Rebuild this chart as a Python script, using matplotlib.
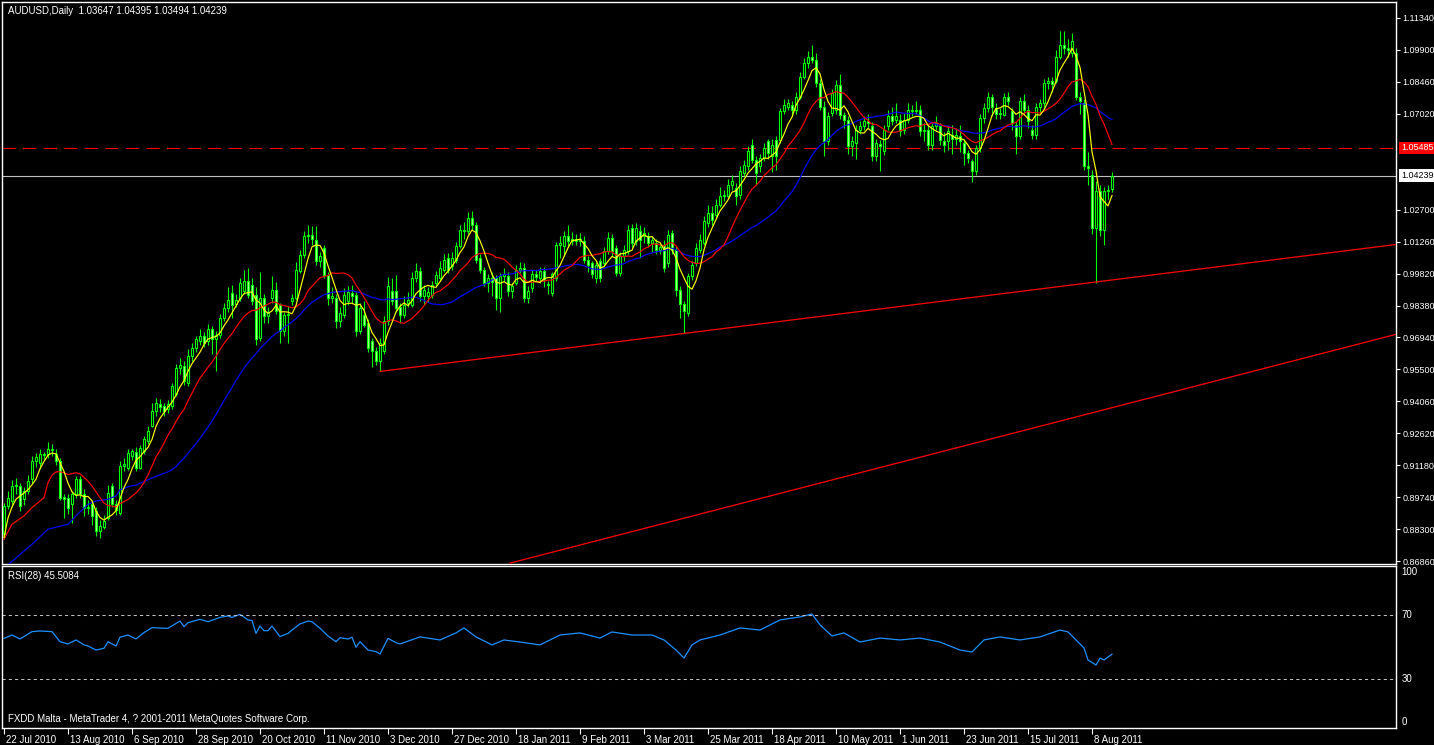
import matplotlib
matplotlib.use("Agg")
import matplotlib.pyplot as plt
import matplotlib.transforms as mtransforms
import numpy as np
import pandas as pd

# ---- daily AUDUSD candles, bar 0 = 22 Jul 2010 ----
opens = [
    0.8807, 0.8935, 0.8957, 0.9025, 0.9025, 0.8965, 0.9002, 0.9055, 0.9137, 0.9130,
    0.9170, 0.9167, 0.9190, 0.9167, 0.9137, 0.8975, 0.8972, 0.8942, 0.8987, 0.9055,
    0.8987, 0.8927, 0.8942, 0.8912, 0.8822, 0.8840, 0.8880, 0.9025, 0.8942, 0.8905,
    0.9115, 0.9107, 0.9160, 0.9180, 0.9107, 0.9182, 0.9227, 0.9295, 0.9362, 0.9392,
    0.9385, 0.9370, 0.9385, 0.9437, 0.9557, 0.9565, 0.9490, 0.9610, 0.9647, 0.9677,
    0.9700, 0.9677, 0.9730, 0.9685, 0.9707, 0.9782, 0.9827, 0.9895, 0.9845, 0.9872,
    0.9902, 0.9947, 0.9932, 0.9887, 0.9690, 0.9872, 0.9790, 0.9872, 0.9910, 0.9842,
    0.9722, 0.9797, 0.9860, 0.9872, 0.9992, 1.0067, 1.0150, 1.0155, 1.0135, 1.0037,
    1.0097, 0.9977, 0.9872, 0.9872, 0.9767, 0.9797, 0.9857, 0.9895, 0.9887, 0.9722,
    0.9797, 0.9760, 0.9677, 0.9632, 0.9587, 0.9632, 0.9767, 0.9902, 0.9902, 0.9830,
    0.9797, 0.9850, 0.9842, 0.9962, 0.9992, 0.9880, 0.9880, 0.9887, 0.9940, 0.9962,
    1.0000, 1.0052, 1.0015, 1.0045, 1.0105, 1.0180, 1.0172, 1.0232, 1.0200, 1.0052,
    1.0000, 0.9940, 0.9962, 0.9962, 0.9873, 0.9970, 0.9970, 0.9903, 0.9940, 1.0000,
    1.0008, 0.9873, 0.9918, 0.9978, 0.9962, 0.9992, 0.9935, 0.9895, 0.9963, 1.0113,
    1.0105, 1.0150, 1.0130, 1.0140, 1.0128, 1.0128, 1.0045, 1.0030, 0.9963, 1.0038,
    1.0030, 1.0083, 1.0143, 1.0098, 0.9985, 1.0060, 1.0083, 1.0188, 1.0128, 1.0173,
    1.0150, 1.0150, 1.0120, 1.0120, 1.0090, 1.0113, 1.0030, 1.0165, 1.0090, 0.9910,
    0.9843, 0.9805, 0.9970, 1.0030, 1.0090, 1.0120, 1.0210, 1.0255, 1.0248, 1.0293,
    1.0330, 1.0330, 1.0383, 1.0368, 1.0338, 1.0435, 1.0465, 1.0563, 1.0495, 1.0465,
    1.0503, 1.0578, 1.0510, 1.0585, 1.0585, 1.0713, 1.0735, 1.0743, 1.0720, 1.0780,
    1.0870, 1.0930, 1.0960, 1.0945, 1.0840, 1.0735, 1.0578, 1.0705, 1.0720, 1.0833,
    1.0698, 1.0675, 1.0555, 1.0570, 1.0630, 1.0645, 1.0668, 1.0645, 1.0510, 1.0565,
    1.0533, 1.0645, 1.0690, 1.0675, 1.0675, 1.0630, 1.0675, 1.0720, 1.0713, 1.0720,
    1.0623, 1.0630, 1.0563, 1.0645, 1.0645, 1.0578, 1.0578, 1.0608, 1.0590, 1.0600,
    1.0570, 1.0525, 1.0488, 1.0443, 1.0548, 1.0683, 1.0728, 1.0780, 1.0728, 1.0705,
    1.0698, 1.0780, 1.0713, 1.0653, 1.0600, 1.0758, 1.0720, 1.0630, 1.0608, 1.0735,
    1.0750, 1.0840, 1.0848, 1.0848, 1.0960, 1.1013, 1.1000, 1.0975, 1.0975, 1.0780,
    1.0750, 1.0465, 1.0428, 1.0188, 1.0353, 1.0180, 1.0353, 1.03647,
]
highs = [
    0.8950, 0.9000, 0.9050, 0.9060, 0.9040, 0.9020, 0.9075, 0.9160, 0.9175, 0.9190,
    0.9180, 0.9225, 0.9215, 0.9190, 0.9150, 0.8990, 0.8990, 0.9000, 0.9070, 0.9070,
    0.9010, 0.8960, 0.8960, 0.8930, 0.8870, 0.8895, 0.9030, 0.9040, 0.8960, 0.9135,
    0.9150, 0.9190, 0.9190, 0.9200, 0.9210, 0.9250, 0.9295, 0.9400, 0.9420, 0.9415,
    0.9400, 0.9410, 0.9490, 0.9575, 0.9600, 0.9590, 0.9640, 0.9670, 0.9700, 0.9730,
    0.9720, 0.9755, 0.9745, 0.9725, 0.9800, 0.9850, 0.9920, 0.9930, 0.9890, 0.9960,
    1.0000, 1.0005, 0.9960, 0.9920, 0.9990, 0.9890, 0.9830, 0.9970, 0.9945, 0.9850,
    0.9810, 0.9835, 0.9890, 1.0035, 1.0090, 1.0175, 1.0200, 1.0195, 1.0195, 1.0080,
    1.0110, 0.9990, 0.9920, 0.9890, 0.9830, 0.9915, 0.9925, 0.9930, 0.9900, 0.9850,
    0.9860, 0.9775, 0.9690, 0.9650, 0.9690, 0.9790, 0.9965, 0.9960, 0.9975, 0.9850,
    0.9880, 0.9900, 0.9990, 1.0030, 1.0010, 0.9930, 0.9920, 0.9950, 0.9995, 1.0040,
    1.0070, 1.0075, 1.0080, 1.0125, 1.0200, 1.0215, 1.0260, 1.0262, 1.0215, 1.0070,
    1.0010, 0.9980, 0.9990, 0.9975, 0.9985, 1.0005, 0.9990, 0.9940, 1.0020, 1.0035,
    1.0030, 0.9925, 1.0000, 1.0000, 1.0010, 1.0010, 0.9950, 0.9990, 1.0125, 1.0150,
    1.0175, 1.0200, 1.0170, 1.0160, 1.0165, 1.0150, 1.0060, 1.0040, 1.0035, 1.0050,
    1.0100, 1.0170, 1.0160, 1.0110, 1.0080, 1.0110, 1.0200, 1.0205, 1.0210, 1.0200,
    1.0190, 1.0170, 1.0150, 1.0140, 1.0120, 1.0135, 1.0180, 1.0180, 1.0105, 0.9925,
    0.9860, 0.9985, 1.0040, 1.0120, 1.0160, 1.0240, 1.0290, 1.0285, 1.0320, 1.0370,
    1.0360, 1.0410, 1.0425, 1.0390, 1.0465, 1.0495, 1.0555, 1.0590, 1.0510, 1.0520,
    1.0570, 1.0590, 1.0590, 1.0600, 1.0730, 1.0770, 1.0770, 1.0760, 1.0800, 1.0890,
    1.0955, 1.0985, 1.1013, 1.0975, 1.0860, 1.0760, 1.0710, 1.0815, 1.0855, 1.0880,
    1.0710, 1.0690, 1.0600, 1.0650, 1.0670, 1.0690, 1.0700, 1.0665, 1.0590, 1.0585,
    1.0650, 1.0720, 1.0735, 1.0750, 1.0700, 1.0705, 1.0750, 1.0740, 1.0760, 1.0740,
    1.0660, 1.0650, 1.0660, 1.0690, 1.0660, 1.0620, 1.0650, 1.0650, 1.0640, 1.0650,
    1.0590, 1.0540, 1.0500, 1.0560, 1.0700, 1.0750, 1.0800, 1.0790, 1.0750, 1.0730,
    1.0795, 1.0800, 1.0730, 1.0670, 1.0780, 1.0790, 1.0740, 1.0650, 1.0750, 1.0770,
    1.0860, 1.0870, 1.0870, 1.0990, 1.1075, 1.1075, 1.1040, 1.1065, 1.1000, 1.0800,
    1.0770, 1.0530, 1.0450, 1.0400, 1.0380, 1.0370, 1.0380, 1.04395,
]
lows = [
    0.8785, 0.8920, 0.8930, 0.8990, 0.8910, 0.8940, 0.8990, 0.9040, 0.9110, 0.9100,
    0.9140, 0.9150, 0.9160, 0.9120, 0.8960, 0.8880, 0.8900, 0.8860, 0.8970, 0.8970,
    0.8890, 0.8900, 0.8850, 0.8800, 0.8790, 0.8830, 0.8870, 0.8930, 0.8895, 0.8895,
    0.9090, 0.9095, 0.9140, 0.9090, 0.9100, 0.9170, 0.9215, 0.9290, 0.9340, 0.9360,
    0.9340, 0.9355, 0.9370, 0.9430, 0.9530, 0.9480, 0.9475, 0.9590, 0.9630, 0.9660,
    0.9650, 0.9660, 0.9620, 0.9545, 0.9690, 0.9770, 0.9810, 0.9780, 0.9830, 0.9860,
    0.9890, 0.9870, 0.9840, 0.9660, 0.9680, 0.9760, 0.9760, 0.9850, 0.9800, 0.9670,
    0.9700, 0.9670, 0.9840, 0.9865, 0.9985, 1.0050, 1.0120, 1.0110, 1.0020, 1.0010,
    0.9960, 0.9840, 0.9850, 0.9735, 0.9740, 0.9780, 0.9840, 0.9850, 0.9700, 0.9710,
    0.9740, 0.9630, 0.9560, 0.9570, 0.9541, 0.9620, 0.9750, 0.9840, 0.9810, 0.9760,
    0.9780, 0.9830, 0.9830, 0.9945, 0.9860, 0.9840, 0.9855, 0.9870, 0.9925, 0.9950,
    0.9990, 0.9985, 1.0000, 1.0030, 1.0095, 1.0140, 1.0160, 1.0180, 1.0030, 0.9985,
    0.9925, 0.9900, 0.9880, 0.9820, 0.9810, 0.9950, 0.9880, 0.9870, 0.9930, 0.9985,
    0.9855, 0.9850, 0.9900, 0.9950, 0.9940, 0.9920, 0.9890, 0.9880, 0.9950, 1.0050,
    1.0060, 1.0100, 1.0110, 1.0110, 1.0105, 1.0030, 0.9990, 0.9960, 0.9940, 0.9945,
    1.0010, 1.0070, 1.0060, 0.9970, 0.9970, 1.0040, 1.0070, 1.0100, 1.0110, 1.0050,
    1.0120, 1.0100, 1.0080, 1.0070, 1.0070, 0.9990, 1.0010, 1.0070, 0.9880, 0.9780,
    0.9715, 0.9790, 0.9955, 1.0015, 1.0075, 1.0110, 1.0190, 1.0200, 1.0230, 1.0280,
    1.0310, 1.0320, 1.0360, 1.0290, 1.0320, 1.0420, 1.0450, 1.0480, 1.0380, 1.0440,
    1.0490, 1.0500, 1.0440, 1.0450, 1.0570, 1.0700, 1.0720, 1.0690, 1.0700, 1.0770,
    1.0860, 1.0910, 1.0930, 1.0825, 1.0720, 1.0510, 1.0560, 1.0690, 1.0700, 1.0680,
    1.0640, 1.0520, 1.0510, 1.0500, 1.0610, 1.0630, 1.0640, 1.0490, 1.0490, 1.0445,
    1.0515, 1.0630, 1.0650, 1.0660, 1.0600, 1.0610, 1.0660, 1.0690, 1.0700, 1.0600,
    1.0580, 1.0540, 1.0540, 1.0630, 1.0560, 1.0530, 1.0540, 1.0520, 1.0560, 1.0530,
    1.0470, 1.0480, 1.0395, 1.0425, 1.0530, 1.0660, 1.0710, 1.0690, 1.0680, 1.0680,
    1.0690, 1.0740, 1.0630, 1.0520, 1.0590, 1.0700, 1.0640, 1.0590, 1.0590, 1.0710,
    1.0735, 1.0815, 1.0800, 1.0840, 1.0950, 1.0970, 1.0960, 1.0960, 1.0765, 1.0700,
    1.0450, 1.0380, 1.0160, 0.9940, 1.0150, 1.0113, 1.0320, 1.03494,
]
closes = [
    0.8935, 0.8972, 0.9025, 0.9030, 0.8935, 0.9002, 0.9047, 0.9137, 0.9155, 0.9170,
    0.9165, 0.9190, 0.9185, 0.9137, 0.8972, 0.8968, 0.8927, 0.8987, 0.9055, 0.8987,
    0.8927, 0.8930, 0.8890, 0.8822, 0.8845, 0.8867, 0.8995, 0.8942, 0.8915, 0.9115,
    0.9122, 0.9175, 0.9182, 0.9107, 0.9197, 0.9235, 0.9272, 0.9362, 0.9400, 0.9380,
    0.9362, 0.9395, 0.9475, 0.9557, 0.9570, 0.9497, 0.9610, 0.9647, 0.9685, 0.9700,
    0.9670, 0.9730, 0.9685, 0.9707, 0.9782, 0.9827, 0.9865, 0.9842, 0.9865, 0.9940,
    0.9947, 0.9887, 0.9857, 0.9685, 0.9872, 0.9790, 0.9810, 0.9910, 0.9812, 0.9722,
    0.9797, 0.9800, 0.9872, 1.0000, 1.0067, 1.0150, 1.0157, 1.0140, 1.0037, 1.0060,
    0.9977, 0.9872, 0.9880, 0.9767, 0.9805, 0.9887, 0.9900, 0.9882, 0.9722, 0.9827,
    0.9752, 0.9647, 0.9632, 0.9587, 0.9670, 0.9767, 0.9925, 0.9857, 0.9827, 0.9797,
    0.9842, 0.9865, 0.9962, 0.9992, 0.9880, 0.9910, 0.9900, 0.9932, 0.9977, 1.0007,
    1.0045, 1.0000, 1.0052, 1.0105, 1.0180, 1.0175, 1.0232, 1.0200, 1.0045, 1.0000,
    0.9940, 0.9962, 0.9945, 0.9873, 0.9970, 0.9978, 0.9903, 0.9925, 1.0000, 1.0008,
    0.9873, 0.9903, 0.9978, 0.9965, 0.9992, 0.9955, 0.9930, 0.9978, 1.0113, 1.0120,
    1.0150, 1.0128, 1.0140, 1.0128, 1.0140, 1.0045, 1.0022, 0.9978, 1.0022, 0.9963,
    1.0083, 1.0143, 1.0083, 0.9985, 1.0060, 1.0090, 1.0180, 1.0120, 1.0188, 1.0135,
    1.0165, 1.0120, 1.0135, 1.0090, 1.0100, 1.0008, 1.0158, 1.0090, 0.9910, 0.9843,
    0.9813, 0.9970, 1.0022, 1.0098, 1.0135, 1.0218, 1.0255, 1.0225, 1.0293, 1.0330,
    1.0338, 1.0383, 1.0398, 1.0330, 1.0443, 1.0473, 1.0533, 1.0495, 1.0435, 1.0503,
    1.0548, 1.0525, 1.0563, 1.0510, 1.0713, 1.0743, 1.0750, 1.0720, 1.0780, 1.0870,
    1.0930, 1.0960, 1.0945, 1.0840, 1.0735, 1.0578, 1.0690, 1.0795, 1.0833, 1.0698,
    1.0675, 1.0555, 1.0578, 1.0630, 1.0645, 1.0668, 1.0660, 1.0510, 1.0570, 1.0555,
    1.0630, 1.0690, 1.0670, 1.0690, 1.0623, 1.0675, 1.0720, 1.0713, 1.0720, 1.0623,
    1.0630, 1.0563, 1.0645, 1.0660, 1.0585, 1.0560, 1.0623, 1.0590, 1.0605, 1.0580,
    1.0525, 1.0503, 1.0443, 1.0548, 1.0683, 1.0728, 1.0780, 1.0735, 1.0700, 1.0700,
    1.0780, 1.0758, 1.0660, 1.0600, 1.0758, 1.0720, 1.0668, 1.0608, 1.0735, 1.0750,
    1.0840, 1.0848, 1.0835, 1.0960, 1.1013, 1.0998, 1.0990, 1.1028, 1.0780, 1.0760,
    1.0465, 1.0460, 1.0188, 1.0353, 1.0180, 1.0353, 1.0360, 1.04239,
]

# moving averages before enough bars exist
yellow_head_bars = [0, 1, 2, 3]
yellow_head_vals = [0.8792, 0.8880, 0.8930, 0.8965]
red_head_bars = [0, 2, 5, 7, 10, 11]
red_head_vals = [0.8785, 0.8852, 0.8890, 0.8927, 0.8972, 0.9040]
blue_head_bars = [0, 2, 7, 11, 16, 18, 21, 23, 26, 28]
blue_head_vals = [0.8655, 0.8685, 0.8762, 0.8830, 0.8852, 0.8890, 0.8942, 0.8957, 0.8965, 0.8980]

# RSI(28)
rsi_bars = [0, 2, 4, 7, 9, 12, 14, 16, 18, 20, 21, 23, 25, 26, 28, 29, 31, 33, 35, 37,
            40, 41, 44, 45, 46, 49, 51, 54, 56, 57, 59, 61, 62, 63, 64, 65, 66, 67, 69, 71,
            72, 74, 76, 77, 79, 81, 83, 84, 86, 87, 88, 89, 91, 93, 94, 96, 98, 99, 104, 109,
            113, 115, 118, 122, 125, 129, 134, 139, 144, 149, 152, 157, 162, 165, 168, 170, 172, 174, 179, 184,
            189, 194, 199, 202, 204, 207, 210, 214, 219, 224, 229, 234, 239, 242, 245, 249, 254, 259, 264, 266,
            268, 270, 271, 273, 274, 275, 277]
rsi_vals = [55.4, 57.5, 55.0, 59.6, 60.0, 59.6, 53.3, 51.9, 54.4, 51.3, 50.6, 48.1, 49.2, 53.3, 50.6, 56.1, 57.5, 55.0, 59.0, 62.1,
            61.7, 61.7, 66.2, 62.7, 65.2, 67.3, 65.8, 68.5, 69.4, 68.5, 70.4, 66.9, 66.5, 58.5, 63.1, 60.2, 60.2, 63.1, 56.5, 58.5,
            60.6, 64.4, 66.2, 65.8, 61.7, 56.9, 53.3, 55.8, 55.0, 56.1, 49.8, 53.3, 48.1, 47.1, 45.6, 55.4, 52.7, 51.9, 56.3, 54.4,
            58.8, 61.9, 56.3, 51.3, 54.4, 53.1, 51.3, 57.5, 58.8, 55.6, 59.4, 57.5, 57.5, 54.4, 48.1, 43.1, 51.3, 54.4, 57.5, 61.9,
            60.6, 66.9, 68.8, 70.6, 63.8, 56.9, 58.8, 53.1, 55.6, 54.4, 55.6, 53.1, 48.1, 46.9, 54.4, 56.3, 54.4, 56.3, 60.6, 59.4,
            54.4, 49.4, 41.9, 38.75, 43.1, 41.9, 45.5084]

date_labels = ['22 Jul 2010', '13 Aug 2010', '6 Sep 2010', '28 Sep 2010', '20 Oct 2010',
               '11 Nov 2010', '3 Dec 2010', '27 Dec 2010', '18 Jan 2011', '9 Feb 2011',
               '3 Mar 2011', '25 Mar 2011', '18 Apr 2011', '10 May 2011', '1 Jun 2011',
               '23 Jun 2011', '15 Jul 2011', '8 Aug 2011']
price_ticks = [1.1134, 1.0990, 1.0846, 1.0702, 1.0270, 1.0126, 0.9982, 0.9838, 0.9694,
               0.9550, 0.9406, 0.9262, 0.9118, 0.8974, 0.8830, 0.8686]

# trend lines (bar, price) and horizontal levels
trend1_bars, trend1_vals = [94, 348], [0.9541, 1.0113]
trend2_bars, trend2_vals = [126.5, 348], [0.8677, 0.9708]
bid_level = 1.04239
line_level = 1.05485

W, H = 1434, 745
FONT = 'Liberation Sans'
plt.rcParams['font.family'] = [FONT, 'DejaVu Sans']
LIME = '#00ff00'

fig = plt.figure(figsize=(W / 100, H / 100), dpi=100, facecolor='black')
ax = fig.add_axes([2 / W, 1 - 564 / H, 1394 / W, 562 / H], facecolor='black')
ax2 = fig.add_axes([2 / W, 1 - 728 / H, 1394 / W, 162 / H], facecolor='black')

n = len(closes)
x = np.arange(n)
o = np.array(opens)
c = np.array(closes)
up = c >= o
lo = np.minimum(o, c)
hgt = np.maximum(np.abs(c - o), 0.0002)

ax.vlines(x, lows, highs, color=LIME, lw=0.8, zorder=2)
ax.bar(x[up], hgt[up], bottom=lo[up], width=0.62, color='black',
       edgecolor=LIME, lw=0.8, zorder=3)
ax.bar(x[~up], hgt[~up], bottom=lo[~up], width=0.62, color='#b4ff9a',
       edgecolor=LIME, lw=0.8, zorder=3)

s = pd.Series(closes)
for period, hb, hv, col in [(30, blue_head_bars, blue_head_vals, '#0000ff'),
                            (13, red_head_bars, red_head_vals, '#ff0000'),
                            (5, yellow_head_bars, yellow_head_vals, '#ffff00')]:
    ma = s.rolling(period).mean()
    xs = list(hb) + list(range(period - 1, n))
    ys = list(hv) + list(ma.iloc[period - 1:])
    ax.plot(xs, ys, color=col, lw=0.85, zorder=4)

ax.plot(trend1_bars, trend1_vals, color='#ff0000', lw=0.9, zorder=4)
ax.plot(trend2_bars, trend2_vals, color='#ff0000', lw=0.9, zorder=4)
ax.axhline(bid_level, color='#c0c0c0', lw=0.8, zorder=1)
ax.axhline(line_level, color='#ff0000', lw=0.8, dashes=(12, 6.5), zorder=1)

ax.set_xlim(-0.5, 348)
ax.set_ylim(0.8673, 1.1206)
ax.set_xticks([])
ax.yaxis.tick_right()
ax.set_yticks(price_ticks)
ax.set_yticklabels([f'{v:.5f}' for v in price_ticks])
ax.tick_params(axis='y', colors='white', labelcolor='white', labelsize=6.5,
               length=3, width=0.8, pad=1.5)
for sp in ax.spines.values():
    sp.set_color('white')
    sp.set_linewidth(1.0)

trans = mtransforms.blended_transform_factory(ax.transAxes, ax.transData)
ax.text(1.0035, line_level, f'{line_level:.5f}', transform=trans, color='white',
        fontsize=6.5, va='center', ha='left', clip_on=False,
        bbox=dict(boxstyle='square,pad=0.2', fc='#ff0000', ec='none'))
ax.text(1.0035, bid_level, f'{bid_level:.5f}', transform=trans, color='black',
        fontsize=6.5, va='center', ha='left', clip_on=False,
        bbox=dict(boxstyle='square,pad=0.2', fc='white', ec='none'))

# RSI panel
ax2.plot(rsi_bars, rsi_vals, color='#1e90ff', lw=0.9)
for lvl in (70, 30):
    ax2.axhline(lvl, color='#c0c0c0', lw=0.75, dashes=(3, 3))
ax2.set_xlim(-0.5, 348)
ax2.set_ylim(-0.6, 100.6)
ax2.set_yticks([])
date_bars = np.arange(len(date_labels)) * 16
ax2.set_xticks(date_bars)
ax2.set_xticklabels(date_labels, ha='left')
ax2.tick_params(axis='x', colors='white', labelcolor='white', labelsize=7,
                length=4, width=0.8, pad=1)
shift = mtransforms.ScaledTranslation(2 / 100, 0, fig.dpi_scale_trans)
for lbl in ax2.get_xticklabels():
    lbl.set_transform(lbl.get_transform() + shift)
for sp in ax2.spines.values():
    sp.set_color('white')
    sp.set_linewidth(1.0)
trans2 = mtransforms.blended_transform_factory(ax2.transAxes, ax2.transData)
for lab, yv in [('100', 96.9), ('70', 70), ('30', 30), ('0', 3.1)]:
    ax2.text(1.004, yv, lab, transform=trans2, color='white', fontsize=7,
             va='center', ha='left', clip_on=False)

fig.text(8 / W, 1 - 11 / H, 'AUDUSD,Daily  1.03647 1.04395 1.03494 1.04239',
         color='white', fontsize=7, va='center', ha='left')
fig.text(8 / W, 1 - 576 / H, 'RSI(28) 45.5084', color='white', fontsize=7,
         va='center', ha='left')
fig.text(8 / W, 1 - 719 / H, 'FXDD Malta - MetaTrader 4, ? 2001-2011 MetaQuotes Software Corp.',
         color='white', fontsize=7, va='center', ha='left')

fig.savefig('out.png', dpi=100, facecolor='black')
